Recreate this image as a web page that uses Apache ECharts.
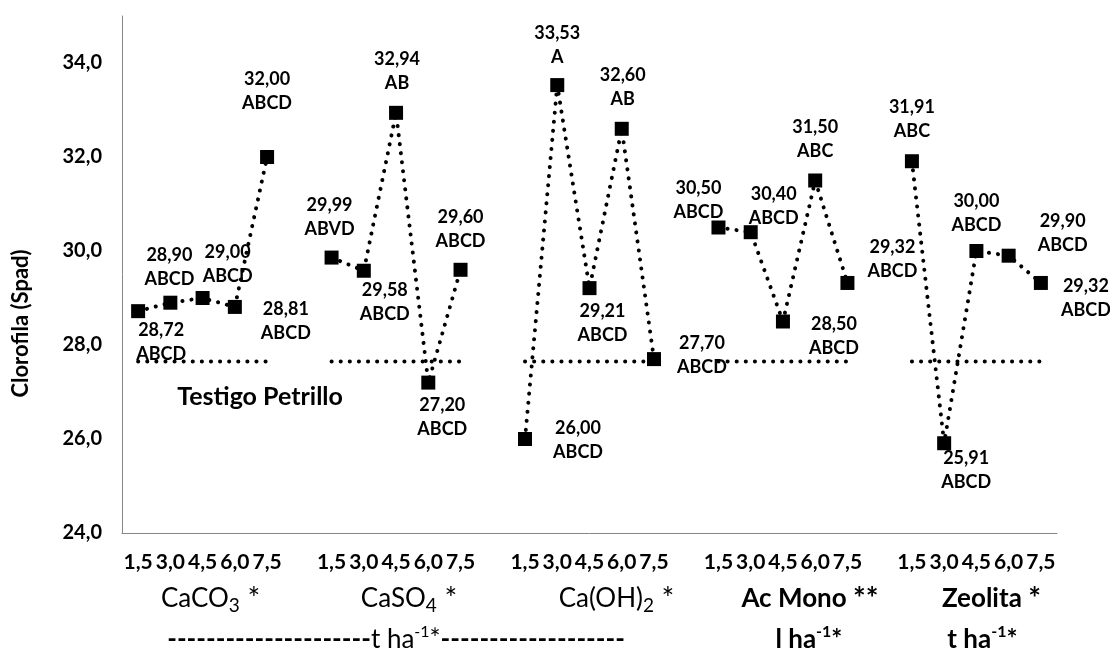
<!DOCTYPE html>
<html><head><meta charset="utf-8">
<script src="https://cdn.jsdelivr.net/npm/echarts@6/dist/echarts.min.js"></script>
<style>html,body{margin:0;padding:0;background:#fff}#c{width:1110px;height:654px}</style>
</head><body><div id="c"></div>
<script>
// x categories: 5 doses per product, one empty slot between products
const categories = ['1,5','3,0','4,5','6,0','7,5','',
                    '1,5','3,0','4,5','6,0','7,5','',
                    '1,5','3,0','4,5','6,0','7,5','',
                    '1,5','3,0','4,5','6,0','7,5','',
                    '1,5','3,0','4,5','6,0','7,5'];
const values = [28.72,28.90,29.00,28.81,32.00,null,
                29.86,29.58,32.94,27.20,29.60,null,
                26.00,33.53,29.21,32.60,27.70,null,
                30.50,30.40,28.50,31.50,29.32,null,
                31.91,25.91,30.00,29.90,29.32];
const valueText = ['28,72','28,90','29,00','28,81','32,00','',
                   '29,99','29,58','32,94','27,20','29,60','',
                   '26,00','33,53','29,21','32,60','27,70','',
                   '30,50','30,40','28,50','31,50','29,32','',
                   '31,91','25,91','30,00','29,90','29,32'];
const letters = ['ABCD','ABCD','ABCD','ABCD','ABCD','',
                 'ABVD','ABCD','AB','ABCD','ABCD','',
                 'ABCD','A','ABCD','AB','ABCD','',
                 'ABCD','ABCD','ABCD','ABC','ABCD','',
                 'ABC','ABCD','ABCD','ABCD','ABCD'];
const controlValue = 27.65;
const controlName = 'Testigo Petrillo';
const yMin = 24, yMax = 35, yStep = 2;

// label placement (layout only)
const labelOffsets = [[23,31],[-1,-36],[25,-34],[51,14],[0,-66],null,
                      [-2,-40],[21,31],[1,-42],[14,35],[0,-41],null,
                      [53,1],[0,-40],[13,35],[1,-42],[48,-4],null,
                      [-20,-27],[23,-26],[51,15],[0,-41],[45,-24],null,
                      [0,-42],[22,27],[0,-38],[54,-23],[45,15]];

const FONT = 'Lato, "Open Sans", sans-serif';
const dotted = {color:'#000', width:4, type:[0.1,9], cap:'round'};

const chart = echarts.init(document.getElementById('c'), null, {renderer:'canvas'});
const option = {
  animation:false,
  backgroundColor:'#fff',
  grid:{left:122, right:53, top:16, bottom:121, containLabel:false},
  xAxis:{type:'category', data:categories, boundaryGap:true,
    axisLine:{lineStyle:{color:'#868686', width:1}}, axisTick:{show:false},
    axisLabel:{interval:0, color:'#000', fontFamily:FONT, fontWeight:'bold', fontSize:21, margin:19}},
  yAxis:{type:'value', min:yMin, max:yMax, interval:yStep, splitLine:{show:false},
    axisLine:{show:true, lineStyle:{color:'#868686', width:1}}, axisTick:{show:false},
    axisLabel:{showMaxLabel:false, color:'#000', fontFamily:FONT, fontWeight:'bold', fontSize:20, margin:20,
      formatter:v => (v % 2 === 0 ? v.toFixed(1).replace('.', ',') : '')}},
  series:[
    {type:'line', name:controlName, silent:true, symbol:'none', connectNulls:false,
     data:categories.map(c => c === '' ? null : controlValue), lineStyle:dotted, z:2},
    {type:'line', name:'Clorofila', connectNulls:false, symbol:'rect', symbolSize:14,
     itemStyle:{color:'#000'}, lineStyle:dotted, z:3,
     data:values.map((v,i) => ({value:v, label:{offset:labelOffsets[i] || [0,0]}})),
     label:{show:true, position:'inside', color:'#000', fontFamily:FONT, fontWeight:'bold', fontSize:18,
       lineHeight:24, align:'center', verticalAlign:'middle',
       formatter:p => valueText[p.dataIndex] + '\n' + letters[p.dataIndex]}}
  ]
};
chart.setOption(option);

const px = i => chart.convertToPixel({xAxisIndex:0}, i);
const py = v => chart.convertToPixel({yAxisIndex:0}, v);
const yMid = (py(yMin) + py(yMax)) / 2;

function rt(text, x, y, bold) {
  const w = bold ? 'bold' : 'normal';
  return {type:'text', x:x, y:y, style:{text:text, align:'center', verticalAlign:'middle',
    fill:'#000', rich:{
      m:{fontSize:26, fontFamily:FONT, fontWeight:w, lineHeight:32, fill:'#000'},
      s:{fontSize:19, fontFamily:FONT, fontWeight:w, verticalAlign:'bottom', fill:'#000'},
      a:{fontSize:30, fontFamily:FONT, fontWeight:w, fill:'#000'},
      p:{fontSize:16, fontFamily:FONT, fontWeight:w, verticalAlign:'top', fill:'#000'},
      d:{fontSize:26, fontFamily:FONT, fontWeight:'bold', width:9.7, align:'center', lineHeight:32, fill:'#000'}
    }}};
}
const rowY1 = py(yMin) + 66, rowY2 = py(yMin) + 107;
const dashes = n => '{d|-}'.repeat(n);
chart.setOption({graphic:[
  {type:'text', x:21, y:yMid + 49, rotation:Math.PI/2,
   style:{text:'Clorofila (Spad)', align:'center', verticalAlign:'middle', fill:'#000',
     font:'bold 22px ' + FONT}},
  {type:'text', x:px(4) - 7, y:py(controlValue) + 35,
   style:{text:controlName, align:'center', verticalAlign:'middle', fill:'#000', font:'bold 25px ' + FONT}},
  rt('{m|CaCO}{s|3}{a| *}', px(2) + 8, rowY1, false),
  rt('{m|CaSO}{s|4}{a| *}', px(8) + 13, rowY1, false),
  rt('{m|Ca(OH)}{s|2}{a| *}', px(14) + 27, rowY1, false),
  rt('{m|Ac Mono }{a|**}', px(20) + 27, rowY1, true),
  rt('{m|Zeolita }{a|*}', px(26) + 15, rowY1, true),
  rt(dashes(21) + '{m|t ha}{p|-1}{m|*}' + dashes(19), px(8), rowY2, false),
  rt('{m|l ha}{p|-1}{m|*}', px(20) + 26, rowY2, true),
  rt('{m|t ha}{p|-1}{m|*}', px(26) + 6, rowY2, true)
]});
</script></body></html>
